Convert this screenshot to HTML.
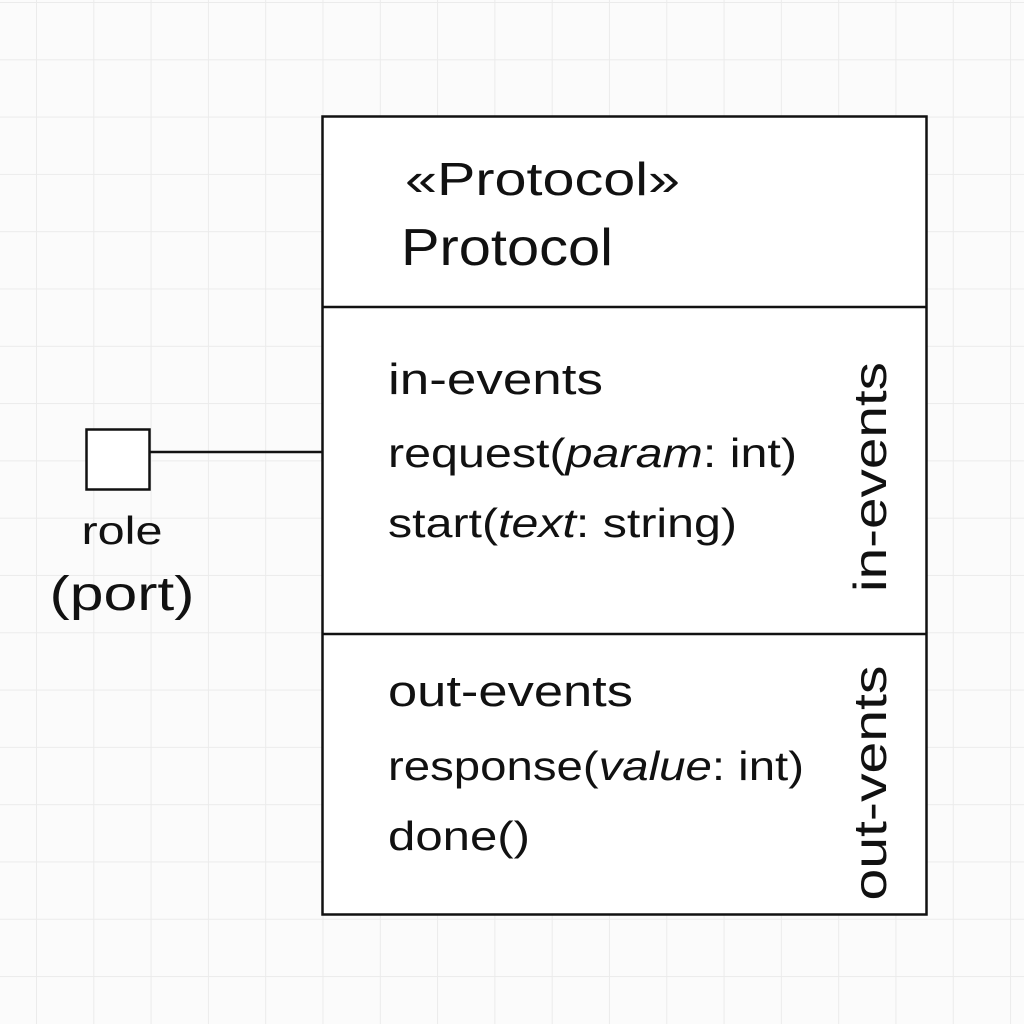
<!DOCTYPE html>
<html><head><style>
body{margin:0;width:1024px;height:1024px;overflow:hidden;background:#fbfbfb;
background-image:linear-gradient(to right,#ebebeb 1px,transparent 1px),linear-gradient(to bottom,#ebebeb 1px,transparent 1px);
background-size:57.3px 57.3px;background-position:36px 2px;font-family:"Liberation Sans",sans-serif;}
</style></head><body>
<svg width="1024" height="1024" style="position:absolute;left:0;top:0" font-family="Liberation Sans, sans-serif" fill="#111">
<rect x="322.5" y="116.5" width="604" height="798" fill="#fff" stroke="#111" stroke-width="2.5"/>
<line x1="322" y1="307" x2="927" y2="307" stroke="#111" stroke-width="2.5"/>
<line x1="322" y1="634" x2="927" y2="634" stroke="#111" stroke-width="2.5"/>
<rect x="86.5" y="429.5" width="63" height="60" fill="#fff" stroke="#111" stroke-width="2.5"/>
<line x1="150" y1="452" x2="322" y2="452" stroke="#111" stroke-width="2.5"/>
<g lengthAdjust="spacingAndGlyphs">
<text x="405" y="195" font-size="46" textLength="275" lengthAdjust="spacingAndGlyphs">«Protocol»</text>
<text x="401" y="265" font-size="52" textLength="212" lengthAdjust="spacingAndGlyphs">Protocol</text>
<text x="388" y="394" font-size="44" textLength="215" lengthAdjust="spacingAndGlyphs">in-events</text>
<text x="388" y="467" font-size="41" textLength="409" lengthAdjust="spacingAndGlyphs">request(<tspan font-style="italic">param</tspan>: int)</text>
<text x="388" y="537" font-size="41" textLength="349" lengthAdjust="spacingAndGlyphs">start(<tspan font-style="italic">text</tspan>: string)</text>
<text x="388" y="706" font-size="44" textLength="245" lengthAdjust="spacingAndGlyphs">out-events</text>
<text x="388" y="780" font-size="41" textLength="416" lengthAdjust="spacingAndGlyphs">response(<tspan font-style="italic">value</tspan>: int)</text>
<text x="388" y="850" font-size="41" textLength="142" lengthAdjust="spacingAndGlyphs">done()</text>
<text transform="translate(886,477) rotate(-90)" text-anchor="middle" font-size="46" textLength="230" lengthAdjust="spacingAndGlyphs">in-events</text>
<text transform="translate(886,783) rotate(-90)" text-anchor="middle" font-size="46" textLength="235" lengthAdjust="spacingAndGlyphs">out-vents</text>
<text x="122" y="544" text-anchor="middle" font-size="39" textLength="81" lengthAdjust="spacingAndGlyphs">role</text>
<text x="122" y="610" text-anchor="middle" font-size="48" textLength="145" lengthAdjust="spacingAndGlyphs">(port)</text>
</g>
</svg>
</body></html>
